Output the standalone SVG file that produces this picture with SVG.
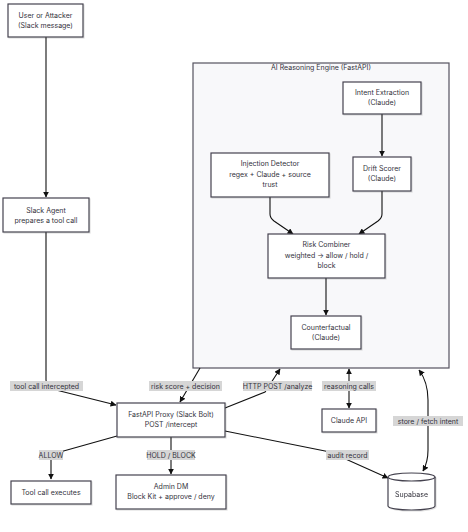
<svg xmlns="http://www.w3.org/2000/svg" width="468" height="532" viewBox="0 0 468 532">
<style>
.n{fill:#fff;stroke:#45434f;stroke-width:1.2;}
.c{fill:#f8f8fa;stroke:#55535f;stroke-width:1.2;}
text{font-family:Inter,"Liberation Sans",sans-serif;font-size:7px;fill:#33323c;text-anchor:middle;}
.e{fill:none;stroke:#111;stroke-width:1.1;}
.lb{fill:#d6d6d6;}
</style>
<defs>
<marker id="a" viewBox="0 0 10 10" refX="9" refY="5" markerWidth="5.5" markerHeight="5.5" orient="auto-start-reverse"><path d="M0,0L10,5L0,10z" fill="#111"/></marker>
<filter id="s" x="-10%" y="-10%" width="130%" height="140%"><feDropShadow dx="1" dy="1" stdDeviation="0.6" flood-color="#000" flood-opacity="0.12"/></filter>
</defs>
<g id="cluster-engine">
<rect class="c" x="193" y="63" width="256" height="305"/>
<text x="321" y="70">AI Reasoning Engine (FastAPI)</text>
</g>
<g id="edges">
<path class="e" d="M46,37V197" marker-end="url(#a)"/>
<path class="e" d="M46,232V380Q46,388 56,390L116,405" marker-end="url(#a)"/>
<path class="e" d="M382,114V156" marker-end="url(#a)"/>
<path class="e" d="M270,197V214Q270,218 274,221L293,234" marker-end="url(#a)"/>
<path class="e" d="M382,191V214Q382,218 378,221L359,234" marker-end="url(#a)"/>
<path class="e" d="M326,278V315" marker-end="url(#a)"/>
<path class="e" d="M200,368L180,402" marker-end="url(#a)"/>
<path class="e" d="M225,408L265,392L280,369" marker-end="url(#a)"/>
<path class="e" d="M349,369V408" marker-start="url(#a)" marker-end="url(#a)"/>
<path class="e" d="M419,370Q428,382 428,400V450Q428,462 423,471" marker-start="url(#a)" marker-end="url(#a)"/>
<path class="e" d="M225,431L330,452L388,478" marker-end="url(#a)"/>
<path class="e" d="M117,436L60,452Q51,455 51,460V479" marker-end="url(#a)"/>
<path class="e" d="M171,437V474" marker-end="url(#a)"/>
</g>
<g id="edge-labels">
<rect class="lb" x="10" y="381" width="73" height="10"/><text x="46.5" y="388.5">tool call intercepted</text>
<rect class="lb" x="149" y="381" width="73" height="10"/><text x="185.5" y="388.5">risk score + decision</text>
<rect class="lb" x="243" y="381" width="69" height="10"/><text x="277.5" y="388.5">HTTP POST /analyze</text>
<rect class="lb" x="322" y="381" width="54" height="10"/><text x="349" y="388.5">reasoning calls</text>
<rect class="lb" x="393" y="416" width="70" height="10"/><text x="428" y="423.5">store / fetch intent</text>
<rect class="lb" x="326" y="450" width="43" height="10"/><text x="347.5" y="457.5">audit record</text>
<rect class="lb" x="39" y="450" width="24" height="10"/><text x="51" y="457.5">ALLOW</text>
<rect class="lb" x="147" y="450" width="48" height="10"/><text x="171" y="457.5">HOLD / BLOCK</text>
</g>
<g id="user"><rect class="n" filter="url(#s)" x="8" y="4" width="75" height="33"/><text x="45.5" y="18">User or Attacker</text><text x="45.5" y="28">(Slack message)</text></g>
<g id="agent"><rect class="n" filter="url(#s)" x="3" y="198" width="86" height="34"/><text x="46" y="213">Slack Agent</text><text x="46" y="223">prepares a tool call</text></g>
<g id="intent"><rect class="n" filter="url(#s)" x="343" y="82" width="78" height="32"/><text x="382" y="95">Intent Extraction</text><text x="382" y="105">(Claude)</text></g>
<g id="drift"><rect class="n" filter="url(#s)" x="353" y="157" width="58" height="34"/><text x="382" y="171">Drift Scorer</text><text x="382" y="181">(Claude)</text></g>
<g id="injection"><rect class="n" filter="url(#s)" x="211" y="153" width="118" height="44"/><text x="270" y="166">Injection Detector</text><text x="270" y="177">regex + Claude + source</text><text x="270" y="187">trust</text></g>
<g id="risk"><rect class="n" filter="url(#s)" x="268" y="234" width="117" height="44"/><text x="326.5" y="247">Risk Combiner</text><text x="326.5" y="258">weighted → allow / hold /</text><text x="326.5" y="268">block</text></g>
<g id="counterfactual"><rect class="n" filter="url(#s)" x="291" y="316" width="70" height="33"/><text x="326" y="330">Counterfactual</text><text x="326" y="340">(Claude)</text></g>
<g id="proxy"><rect class="n" filter="url(#s)" x="117" y="403" width="108" height="34"/><text x="171" y="417">FastAPI Proxy (Slack Bolt)</text><text x="171" y="427">POST /intercept</text></g>
<g id="claude"><rect class="n" filter="url(#s)" x="322" y="409" width="54" height="23"/><text x="349" y="423">Claude API</text></g>
<g id="tool"><rect class="n" filter="url(#s)" x="11" y="481" width="80" height="23"/><text x="51" y="495">Tool call executes</text></g>
<g id="admin"><rect class="n" filter="url(#s)" x="116" y="475" width="110" height="34"/><text x="171" y="489">Admin DM</text><text x="171" y="499">Block Kit + approve / deny</text></g>
<g id="supabase" filter="url(#s)"><path class="n" d="M388,477A23.5,4 0 0 1 435,477V506A23.5,4 0 0 1 388,506Z"/><path class="n" fill="none" d="M388,477A23.5,4 0 0 0 435,477"/><text x="411.5" y="497">Supabase</text></g>
</svg>
